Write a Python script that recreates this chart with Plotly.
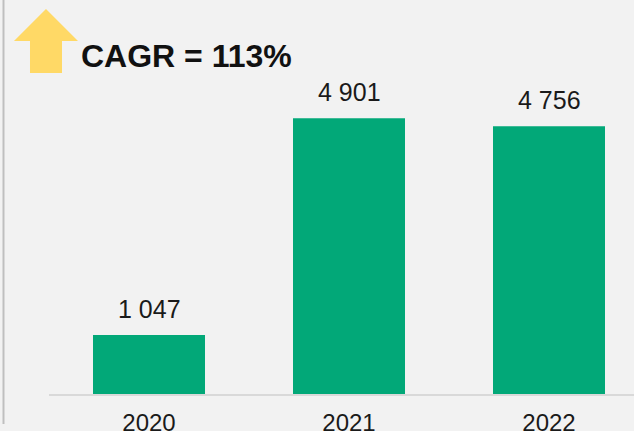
import plotly.graph_objects as go

categories = ["2020", "2021", "2022"]
values = [1047, 4901, 4756]
value_labels = ["1 047", "4 901", "4 756"]
cagr_text = "CAGR = 113%"

W, H = 634, 431
ML, MR, MT, MB = 49, 0, 0, 37
PW, PH = W - ML - MR, H - MT - MB

def px(x):
    return (x - ML) / PW

def py(y):
    return 1 - (y - MT) / PH

BG = "#F2F2F2"
GREEN = "#02A878"
FONT = "Liberation Sans, Arial, sans-serif"

fig = go.Figure()
fig.add_trace(go.Bar(
    x=categories, y=values, width=0.56,
    marker=dict(color=GREEN, line=dict(width=0)),
    hoverinfo="skip",
))

for i, (v, t) in enumerate(zip(values, value_labels)):
    fig.add_annotation(x=i, y=v, text=t, showarrow=False, yanchor="bottom",
                       yshift=10, font=dict(family=FONT, size=25, color="#1A1A1A"))

# CAGR text
fig.add_annotation(xref="paper", yref="paper", x=px(79), y=py(56), text="<b>" + cagr_text + "</b>",
                   showarrow=False, xanchor="left", yanchor="middle",
                   font=dict(family=FONT, size=32, color="#111111"))

# arrow shape
pts = [(30, 73), (30, 41), (14, 41), (46, 9), (78, 41), (62, 41), (62, 73)]
path = "M " + " L ".join(f"{px(x):.5f},{py(y):.5f}" for x, y in pts) + " Z"
fig.add_shape(type="path", xref="paper", yref="paper", path=path,
              fillcolor="#FFD966", line=dict(width=0), layer="above")

# left vertical line
fig.add_shape(type="line", xref="paper", yref="paper", x0=px(3.5), x1=px(3.5), y0=py(0), y1=py(424),
              line=dict(color="#BFBFBF", width=2))

fig.update_layout(
    width=W, height=H,
    margin=dict(l=ML, r=MR, t=MT, b=MB, pad=0, autoexpand=False),
    paper_bgcolor=BG, plot_bgcolor=BG,
    showlegend=False,
    font=dict(family=FONT, size=24, color="#1A1A1A"),
    xaxis=dict(type="category", range=[-0.5, 2.425], showgrid=False, zeroline=False, showline=True,
               linecolor="#D9D9D9", linewidth=2, ticks="", ticklabelstandoff=6, automargin=False,
               tickfont=dict(family=FONT, size=24, color="#1A1A1A"), fixedrange=True),
    yaxis=dict(range=[0, 7000], showgrid=False, zeroline=False, showline=False, automargin=False,
               showticklabels=False, ticks="", fixedrange=True),
)

fig.write_html("out.html", config={"displayModeBar": False},
               post_script="document.body.style.margin='0';document.body.style.padding='0';")
